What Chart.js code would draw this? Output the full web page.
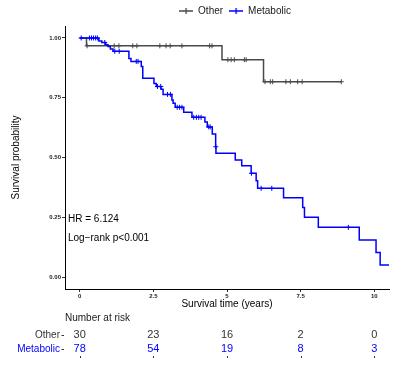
<!DOCTYPE html>
<html>
<head>
<meta charset="utf-8">
<script src="https://cdn.jsdelivr.net/npm/chart.js@4.4.1/dist/chart.umd.min.js"></script>
<style>
  body { margin: 0; background: #fff; }
</style>
</head>
<body>
<canvas id="kmChart" width="410" height="373"></canvas>
<script>
// Kaplan-Meier steps
let otherTimes = [0, 0.23, 4.83, 6.24, 8.9];
let otherSurv = [1, 0.967, 0.909, 0.817, 0.817];
let otherCensor = [0.25, 1.17, 1.33, 1.8, 1.94, 2.72, 2.93, 3.07, 3.47, 4.41, 4.49, 5.03, 5.14, 5.25, 5.59, 5.65, 6.29, 6.47, 6.55, 7.0, 7.15, 7.4, 7.55, 8.88];

let metaTimes = [0, 0.65, 0.75, 0.88, 0.96, 1.04, 1.13, 1.67, 1.74, 2.09, 2.14, 2.52, 2.6, 2.76, 2.83, 3.13, 3.17, 3.24, 3.53, 3.81, 4.25, 4.33, 4.5, 4.615, 4.625, 5.28, 5.5, 5.82, 5.99, 6.04, 6.92, 7.57, 7.63, 8.1, 9.49, 10.06, 10.2, 10.5];
let metaSurv = [1, 0.987, 0.981, 0.972, 0.964, 0.954, 0.944, 0.914, 0.902, 0.881, 0.831, 0.81, 0.797, 0.785, 0.764, 0.741, 0.727, 0.71, 0.689, 0.668, 0.649, 0.628, 0.598, 0.545, 0.518, 0.49, 0.466, 0.434, 0.403, 0.371, 0.332, 0.291, 0.25, 0.208, 0.155, 0.103, 0.05, 0.05];
let metaCensor = [0.05, 0.33, 0.4, 0.47, 0.54, 0.6, 0.85, 1.19, 1.34, 1.92, 1.98, 2.64, 2.75, 2.98, 3.08, 3.31, 3.39, 3.47, 3.87, 3.96, 4.04, 4.12, 4.38, 4.43, 4.62, 5.83, 6.16, 6.52, 9.12];

// risk table
let riskTimes = [0, 2.5, 5, 7.5, 10];
let riskOther = [30, 23, 16, 2, 0];
let riskMeta = [78, 54, 19, 8, 3];

let yTicks = [0, 0.25, 0.5, 0.75, 1];
let xTicks = [0, 2.5, 5, 7.5, 10];

let grayColor = '#4a4a4a';
let blueColor = '#0000ff';
let fontFam = '"Liberation Sans", Arial, sans-serif';

function survAt(times, surv, t) {
  let s = surv[0];
  for (let i = 0; i < times.length; i++) {
    if (times[i] <= t) s = surv[i];
  }
  return s;
}

function toPoints(times, surv) {
  let pts = [];
  for (let i = 0; i < times.length; i++) pts.push({ x: times[i], y: surv[i] });
  return pts;
}

function censorPoints(list, times, surv) {
  return list.map(function (t) { return { x: t, y: survAt(times, surv, t) }; });
}

// legend icon: short line with a cross
function legendIcon(color) {
  let c = document.createElement('canvas');
  c.width = 14; c.height = 8;
  let g = c.getContext('2d');
  g.strokeStyle = color;
  g.lineWidth = 1.3;
  g.beginPath();
  g.moveTo(0, 4); g.lineTo(14, 4);
  g.moveTo(7, 1); g.lineTo(7, 7);
  g.stroke();
  return c;
}

// Risk table + annotation text
let riskTable = {
  id: 'riskTable',
  afterLayout(chart) {
    // legend sits a little right of the panel centre in the original
    if (chart.legend) {
      chart.legend.left += 8;
      chart.legend.right += 8;
    }
  },
  afterDraw(chart) {
    let ctx = chart.ctx;
    let xs = chart.scales.x;
    let ys = chart.scales.y;
    ctx.save();
    ctx.fillStyle = '#000';
    ctx.font = '10px ' + fontFam;
    ctx.textAlign = 'left';
    ctx.textBaseline = 'middle';
    ctx.fillText('HR = 6.124', chart.chartArea.left + 3, ys.getPixelForValue(0.243));
    ctx.fillText('Log\u2212rank p<0.001', chart.chartArea.left + 3, ys.getPixelForValue(0.163));

    ctx.fillStyle = '#1a1a1a';
    ctx.fillText('Number at risk', 65, 318);

    let rows = [
      { name: 'Other', vals: riskOther, color: '#333333', y: 335 },
      { name: 'Metabolic', vals: riskMeta, color: blueColor, y: 349 }
    ];
    rows.forEach(function (r) {
      ctx.textAlign = 'right';
      ctx.fillStyle = r.color;
      ctx.font = '10px ' + fontFam;
      ctx.fillText(r.name, 60, r.y);
      ctx.strokeStyle = '#333';
      ctx.lineWidth = 1;
      ctx.beginPath();
      ctx.moveTo(61.5, r.y + 0.5); ctx.lineTo(64, r.y + 0.5);
      ctx.stroke();
      ctx.textAlign = 'center';
      ctx.font = '11px ' + fontFam;
      ctx.fillStyle = r.color;
      for (let i = 0; i < riskTimes.length; i++) {
        ctx.fillText(String(r.vals[i]), xs.getPixelForValue(riskTimes[i]), r.y);
      }
    });
    ctx.strokeStyle = '#333';
    for (let i = 0; i < riskTimes.length; i++) {
      let px = Math.round(xs.getPixelForValue(riskTimes[i])) + 0.5;
      ctx.beginPath();
      ctx.moveTo(px, 356); ctx.lineTo(px, 358);
      ctx.stroke();
    }
    ctx.restore();
  }
};

let chart = new Chart(document.querySelector('#kmChart'), {
  type: 'line',
  data: {
    datasets: [
      {
        label: 'Other',
        data: toPoints(otherTimes, otherSurv),
        borderColor: grayColor,
        backgroundColor: grayColor,
        borderWidth: 1.5,
        stepped: true,
        pointRadius: 0,
        pointStyle: legendIcon(grayColor),
        order: 3
      },
      {
        label: 'Metabolic',
        data: toPoints(metaTimes, metaSurv),
        borderColor: blueColor,
        backgroundColor: blueColor,
        borderWidth: 1.5,
        stepped: true,
        pointRadius: 0,
        pointStyle: legendIcon(blueColor),
        order: 1
      },
      {
        data: censorPoints(otherCensor, otherTimes, otherSurv),
        showLine: false,
        pointStyle: 'cross',
        pointRadius: 2.5,
        pointBorderWidth: 1,
        borderColor: grayColor,
        order: 2
      },
      {
        data: censorPoints(metaCensor, metaTimes, metaSurv),
        showLine: false,
        pointStyle: 'cross',
        pointRadius: 2.5,
        pointBorderWidth: 1,
        borderColor: blueColor,
        order: 0
      }
    ]
  },
  options: {
    responsive: false,
    animation: false,
    layout: { padding: { left: 0, right: 21, top: 0, bottom: 63 } },
    plugins: {
      tooltip: { enabled: false },
      legend: {
        position: 'top',
        fullSize: false,
        labels: {
          usePointStyle: true,
          pointStyleWidth: 14,
          padding: 6,
          color: '#1a1a1a',
          font: { family: fontFam, size: 10 },
          filter: function (item) { return !!item.text; },
          sort: function (a, b) { return a.datasetIndex - b.datasetIndex; }
        }
      }
    },
    scales: {
      x: {
        type: 'linear',
        min: -0.5,
        max: 10.5,
        afterBuildTicks: function (scale) { scale.ticks = xTicks.map(function (v) { return { value: v }; }); },
        afterFit: function (scale) { scale.height = 21; },
        ticks: {
          padding: 1,
          color: '#222',
          font: { family: fontFam, size: 6, weight: 'bold' },
          callback: function (v) { return String(v); }
        },
        grid: { drawOnChartArea: false, drawTicks: true, tickLength: 3, tickColor: '#333' },
        border: { display: true, color: '#000', width: 1 },
        title: {
          display: true,
          text: 'Survival time (years)',
          color: '#000',
          padding: { top: 0, bottom: 0 },
          font: { family: fontFam, size: 10 }
        }
      },
      y: {
        type: 'linear',
        min: -0.05,
        max: 1.05,
        afterBuildTicks: function (scale) { scale.ticks = yTicks.map(function (v) { return { value: v }; }); },
        afterFit: function (scale) { scale.width = 65; },
        ticks: {
          padding: 1,
          color: '#222',
          font: { family: fontFam, size: 6, weight: 'bold' },
          callback: function (v) { return v.toFixed(2); }
        },
        grid: { drawOnChartArea: false, drawTicks: true, tickLength: 3, tickColor: '#333' },
        border: { display: true, color: '#000', width: 1 },
        title: {
          display: true,
          text: 'Survival probability',
          color: '#000',
          padding: { top: 10, bottom: 0 },
          font: { family: fontFam, size: 10 }
        }
      }
    }
  },
  plugins: [riskTable]
});
</script>
</body>
</html>
